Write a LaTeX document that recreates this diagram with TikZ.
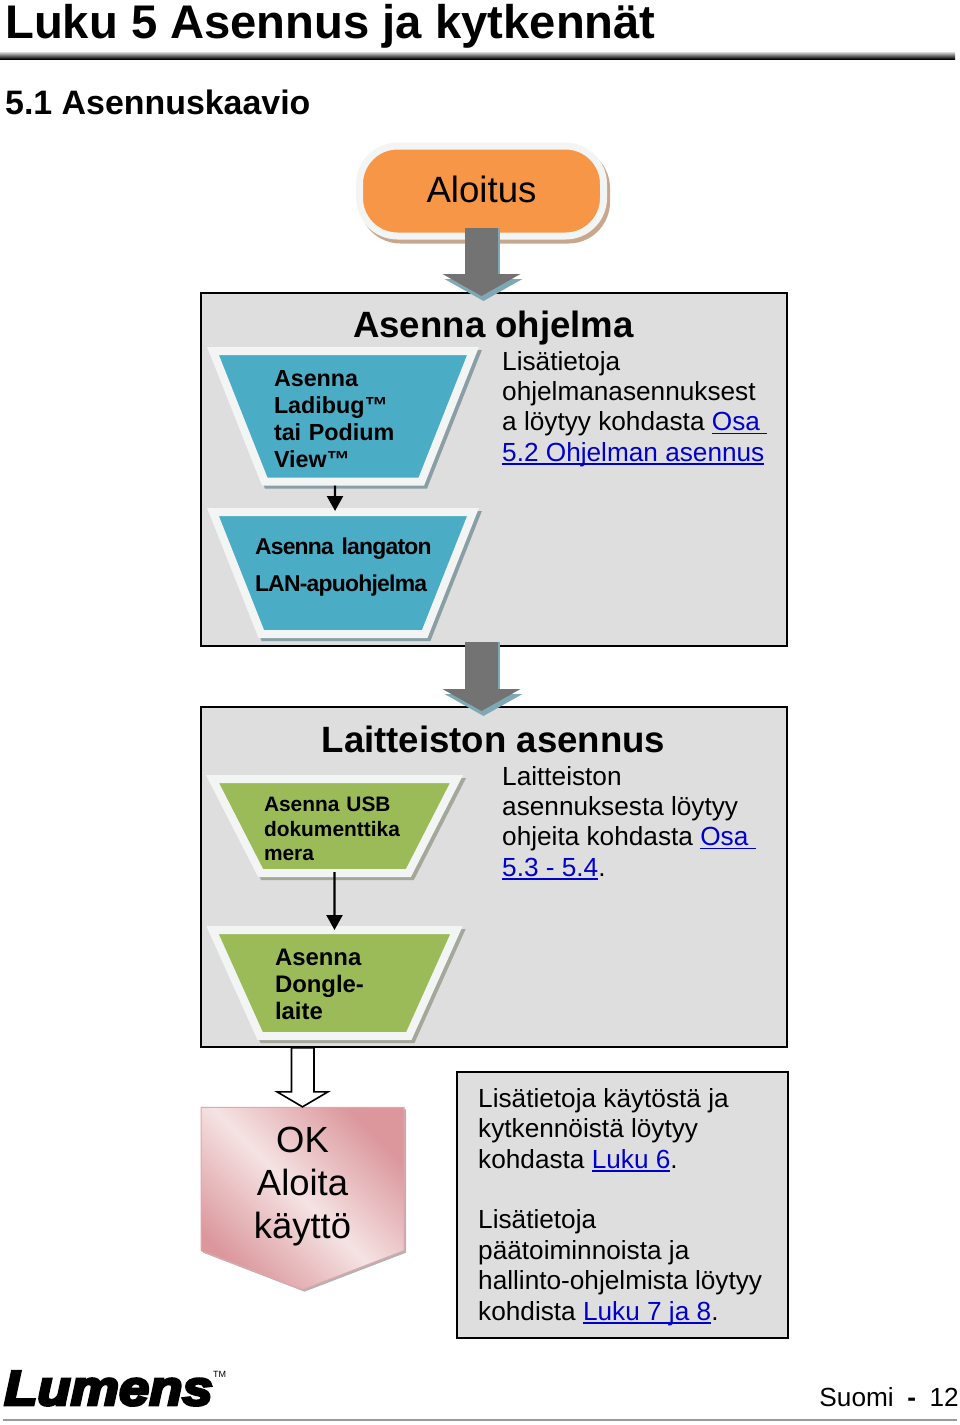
\documentclass[tikz,border=0pt]{standalone}
\usepackage{fontspec}
\setmainfont{Liberation Sans}
\newfontfamily\logofont[FakeBold=6,FakeStretch=1.11]{Liberation Sans Bold Italic}
\usetikzlibrary{arrows.meta,shapes.geometric,shapes.symbols,shadows}
\definecolor{boxgray}{HTML}{DEDEDE}
\definecolor{startorange}{HTML}{F79646}
\definecolor{startshadow}{HTML}{C9A78C}
\definecolor{softblue}{HTML}{4BACC6}
\definecolor{softgreen}{HTML}{9BBB59}
\definecolor{blueshadow}{HTML}{8A9EA5}
\definecolor{greenshadow}{HTML}{A3A89A}
\definecolor{arrowgray}{HTML}{737373}
\definecolor{arrowshadow}{HTML}{7FA8B5}
\definecolor{edgewhite}{HTML}{F3F5F5}
\definecolor{pinkdark}{HTML}{DB979C}
\definecolor{pinklight}{HTML}{F5E3E3}
\definecolor{linkblue}{HTML}{0000CC}
\newcommand{\fsz}[2]{\fontsize{#1}{#2}\selectfont}
\newcommand{\linktxt}[1]{\textcolor{linkblue}{\setbox0\hbox{#1}\rlap{\rule[-3.5pt]{\wd0}{1.6pt}}\box0}}
\tikzset{
  panel/.style={rectangle,draw=black,line width=2pt,fill=boxgray,inner sep=0pt,anchor=north west},
  bodytxt/.style={inner sep=0pt,anchor=north west,align=left,font=\fsz{26.2}{30.4}},
  headtxt/.style={inner sep=0pt,anchor=base,font=\bfseries\fsz{36.6}{40}},
  funnel/.style={trapezium,shape border rotate=180,trapezium stretches body,inner sep=0pt,
    draw=edgewhite,line width=8pt,align=left,
    drop shadow={shadow xshift=3pt,shadow yshift=-3pt,opacity=1,draw=#1,fill=#1,line width=8pt}},
  blockback/.style={line width=33pt,arrowshadow,-{Triangle[length=22pt,width=77pt]}},
  blockfront/.style={line width=33pt,arrowgray,-{Triangle[length=22pt,width=77pt]}},
  hollowarrow/.style={line width=1.6pt,draw=black,fill=white,line join=miter},
  thinarrow/.style={line width=2.3pt,-{Triangle[length=15pt,width=16pt]}},
}
\begin{document}
\begin{tikzpicture}[x=1pt,y=-1pt]
  \useasboundingbox (0,0) rectangle (960,1425);

  \node[inner sep=0pt,anchor=base west,font=\bfseries\fsz{47.2}{50}] (title) at (5,38) {Luku 5 Asennus ja kytkennät};
  \shade[top color=gray!30,bottom color=black] (0,52) rectangle (955,59);
  \node[inner sep=0pt,anchor=base west,font=\bfseries\fsz{33.9}{36}] (subtitle) at (5,114) {5.1 Asennuskaavio};

  \node[panel,minimum width=586pt,minimum height=353pt] (softbox) at (200,292) {};
  \node[panel,minimum width=586pt,minimum height=340pt] (hardbox) at (200,706) {};
  \node[panel,minimum width=331pt,minimum height=266pt] (infobox) at (456,1071) {};

  \node[rectangle,rounded corners=38pt,draw=edgewhite,line width=7pt,fill=startorange,
    minimum width=244pt,minimum height=90pt,text depth=3pt,
    drop shadow={shadow xshift=3pt,shadow yshift=-4pt,opacity=1,draw=startshadow,fill=startshadow,line width=7pt},
    font=\fsz{36.6}{40}] (start) at (481.5,191) {Aloitus};

  \node[headtxt] (softhead) at (493.5,337) {Asenna ohjelma};
  \node[bodytxt] (softinfo) at (502,351) {Lisätietoja\\ohjelmanasennuksest\\a löytyy kohdasta \linktxt{Osa\ }\\\linktxt{5.2 Ohjelman asennus}};

  \node[funnel=blueshadow,fill=softblue,trapezium angle=68.4,minimum width=260pt,
    text height=35pt,text depth=95.5pt,
    text width=138pt,font=\bfseries\fsz{23.3}{27.3}] (ladibug) at (343,416.25)
    {Asenna\\Ladibug™\\tai Podium\\View™};
  \node[funnel=blueshadow,fill=softblue,trapezium angle=68.4,minimum width=260pt,
    text height=42pt,text depth=80pt,
    text width=160pt,font=\bfseries\fsz{22.9}{37}\addfontfeature{LetterSpace=-3.3}] (wlan) at (343,573)
    {\hspace*{-8pt}\mbox{Asenna langaton}\\\hspace*{-8pt}\mbox{LAN-apuohjelma}};

  \node[headtxt] (hardhead) at (493.5,752) {Laitteiston asennus};
  \node[bodytxt] (hardinfo) at (502,766) {Laitteiston\\asennuksesta löytyy\\ohjeita kohdasta \linktxt{Osa\ }\\\linktxt{5.3 - 5.4}.};

  \node[funnel=greenshadow,fill=softgreen,trapezium angle=62.9,minimum width=244pt,
    text height=32.5pt,text depth=61.5pt,
    text width=141pt,font=\bfseries\fsz{20.9}{24.5}] (usbcam) at (334.5,826)
    {Asenna USB\\dokumenttika\\mera};
  \node[funnel=greenshadow,fill=softgreen,trapezium angle=65.8,minimum width=244pt,
    text height=35pt,text depth=71pt,
    text width=119pt,font=\bfseries\fsz{23.9}{27}] (dongle) at (334.5,983)
    {Asenna\\Dongle-\\laite};

  \node[signal,signal to=south,signal pointer angle=138,inner sep=0pt,minimum width=203pt,minimum height=162pt,
    left color=pinkdark,right color=pinkdark,middle color=pinklight,shading angle=-45,
    draw=pinkdark!85!white,line width=1pt,align=center,font=\fsz{36.4}{43},text height=127pt,text depth=8pt,
    drop shadow={shadow xshift=2pt,shadow yshift=-2pt,opacity=.6,fill=gray}] (okstart) at (302.5,1179)
    {OK\\Aloita\\käyttö};

  \node[inner sep=0pt,anchor=north west,align=left,font=\fsz{26.2}{30.4}] (useinfo) at (478,1088)
    {Lisätietoja käytöstä ja\\kytkennöistä löytyy\\kohdasta \linktxt{Luku 6}.\\[30.4pt]Lisätietoja\\päätoiminnoista ja\\hallinto-ohjelmista löytyy\\kohdista \linktxt{Luku 7 ja 8}.};

  \node[inner sep=0pt,anchor=base west,font=\logofont\fsz{49}{50}] (logo) at (4,1405) {Lumens};
  \node[inner sep=0pt,anchor=base west,font=\fsz{9}{10}] (logotm) at (213,1377) {TM};
  \node[inner sep=0pt,anchor=base east,font=\fsz{26.2}{30}] (pageno) at (959,1406) {Suomi\hskip13.6pt\textbf{-}\hskip13.6pt12};
  \fill[gray!80] (3,1419) rectangle (957,1421);

  \draw[blockback] ([xshift=2pt,yshift=11.5pt]start.south) -- ([xshift=-10.5pt,yshift=-9pt]softbox.north);
  \draw[blockfront] ([yshift=11.5pt]start.south) -- ([xshift=-12.5pt,yshift=-4pt]softbox.north);
  \draw[blockback] ([xshift=-10.5pt,yshift=5pt]softbox.south) -- ([xshift=-10.5pt,yshift=-10pt]hardbox.north);
  \draw[blockfront] ([xshift=-12.5pt,yshift=5pt]softbox.south) -- ([xshift=-12.5pt,yshift=-5pt]hardbox.north);

  \draw[thinarrow] ([xshift=-8pt]ladibug.south) -- ([xshift=-8pt,yshift=-3pt]wlan.north);
  \draw[thinarrow] ([yshift=5pt]usbcam.south) -- ([yshift=-4pt]dongle.north);

  \draw[hollowarrow] (okstart.north) -- ++(-25.5,-15) -- ++(14.5,0) -- ++(0,-44) -- ++(22.5,0) -- ++(0,44) -- ++(14,0) -- cycle;
\end{tikzpicture}
\end{document}
